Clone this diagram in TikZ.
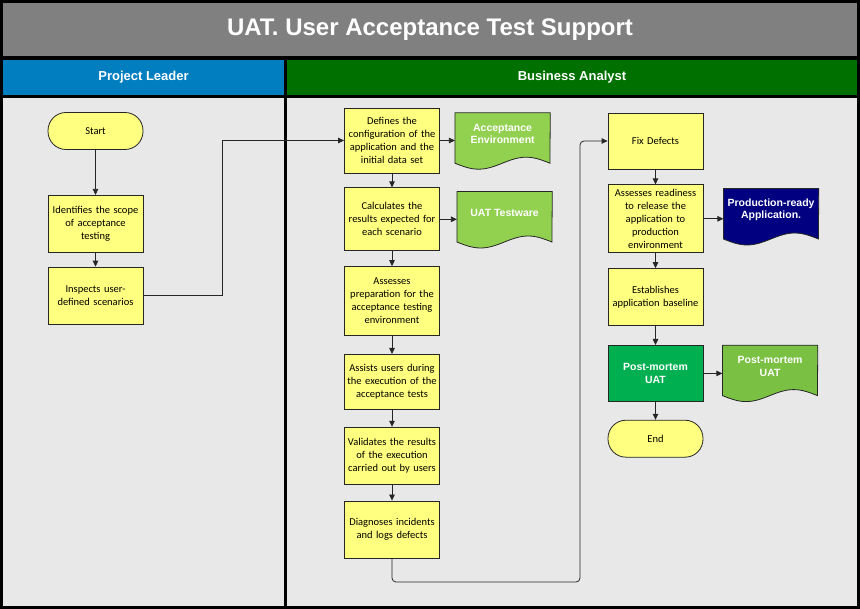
\documentclass[tikz,border=0pt]{standalone}
\usepackage{fontspec}
\setmainfont{Carlito}
\newfontfamily\headfont{Liberation Sans}
\usepackage{tikz}
\usetikzlibrary{arrows.meta,positioning,calc,backgrounds}
\usepackage{xcolor}
\definecolor{titlegray}{RGB}{128,128,128}
\definecolor{leadblue}{RGB}{0,126,192}
\definecolor{analystgreen}{RGB}{0,112,0}
\definecolor{lanegray}{RGB}{232,232,232}
\definecolor{procyellow}{RGB}{255,255,128}
\definecolor{docgreen}{RGB}{146,208,80}
\definecolor{pmgreen}{RGB}{0,176,80}
\definecolor{pmdocgreen}{RGB}{122,192,66}
\definecolor{prodnavy}{RGB}{0,0,128}
\pgfdeclarelayer{lanes}
\pgfsetlayers{lanes,background,main}
\newcommand{\docpath}[1]{($(#1.south west)+(0pt,-8pt)$) sin ++(23.75pt,-6pt) cos ++(23.75pt,6pt) sin ++(23.75pt,6pt) cos ++(23.75pt,-6pt) -- (#1.north east) -- (#1.north west) -- cycle}

\begin{document}
\begin{tikzpicture}[
      x=1pt,y=-1pt,
      box/.style={draw=black!85,line width=0.8pt,minimum width=95pt,text width=93pt,inner sep=1pt,align=center,font=\fontsize{10.5}{13}\selectfont},
      proc/.style={box,fill=procyellow},
      term/.style={box,fill=procyellow,rounded corners=18pt,minimum height=37pt},
      keyproc/.style={box,fill=pmgreen,text=white,font=\headfont\bfseries\fontsize{10.5}{13}\selectfont},
      docbox/.style={minimum width=95pt,minimum height=42pt,inner sep=0pt,align=center,text=white,font=\headfont\bfseries\fontsize{10.5}{12.5}\selectfont},
      docline/.style={draw=black!85,line width=0.8pt},
      titlebar/.style={fill=titlegray,minimum width=854pt,minimum height=53.5pt,inner sep=0pt,text=white,font=\headfont\bfseries\fontsize{24}{28}\selectfont},
      lanehead/.style={minimum height=35pt,inner sep=0pt,text=white,font=\headfont\bfseries\fontsize{13}{15}\selectfont},
      arr/.style={-{Triangle[length=6pt,width=5.5pt]},line width=0.8pt,draw=black!85}
    ]
    \useasboundingbox (0,0) rectangle (860,609);
    % swimlanes
    \begin{pgfonlayer}{lanes}
      \fill[black] (0,0) rectangle (860,609);
      \fill[lanegray] (3,98) rectangle (284,606);
      \fill[lanegray] (287,98) rectangle (857,606);
    \end{pgfonlayer}
    \node[titlebar] (title) at (430,29.75) {UAT. User Acceptance Test Support};
    \node[lanehead,fill=leadblue,minimum width=281pt] (hPL) at (143.5,77.5) {Project Leader};
    \node[lanehead,fill=analystgreen,minimum width=570pt] (hBA) at (572,77.5) {Business Analyst};

    % project leader
    \node[term] (start) at (95.5,131) {Start};
    \node[proc,below=45pt of start,minimum height=57pt] (ident) {Identifies the scope\\of acceptance\\testing};
    \node[proc,below=14pt of ident,minimum height=57pt] (insp) {Inspects user-\\defined scenarios};

    % business analyst, first column
    \node[proc,minimum height=65pt] (def) at (392,140.5) {Defines the\\configuration of the\\application and the\\initial data set};
    \node[proc,below=14pt of def,minimum height=63pt] (calc) {Calculates the\\results expected for\\each scenario};
    \node[proc,below=15pt of calc,minimum height=69pt] (prep) {Assesses\\preparation for the\\acceptance testing\\environment};
    \node[proc,below=18pt of prep,minimum height=55pt] (assist) {Assists users during\\the execution of the\\acceptance tests};
    \node[proc,below=17pt of assist,minimum height=57pt] (valid) {Validates the results\\of the execution\\carried out by users};
    \node[proc,below=16pt of valid,minimum height=57pt] (diag) {Diagnoses incidents\\and logs defects};
    \node[docbox,right=15pt of def,yshift=6.5pt] (accenv) {Acceptance\\Environment};
    \node[docbox,right=17pt of calc,yshift=6.5pt] (testware) {UAT Testware};

    % business analyst, second column
    \node[proc,minimum height=56pt] (fix) at (655.5,141) {Fix Defects};
    \node[proc,below=15pt of fix,minimum height=68pt] (ready) {Assesses readiness\\to release the\\application to\\production\\environment};
    \node[proc,below=15pt of ready,minimum height=57pt] (base) {Establishes\\application baseline};
    \node[keyproc,below=19pt of base,minimum height=56pt] (pm) {Post-mortem\\UAT};
    \node[term,below=18pt of pm] (finish) {End};
    \node[docbox,right=20pt of ready,yshift=9pt] (prodapp) {Production-ready\\Application.};
    \node[docbox,right=19pt of pm,yshift=7pt] (pmdoc) {Post-mortem\\UAT};

    \begin{pgfonlayer}{background}
      \filldraw[docline,fill=docgreen] \docpath{accenv};
      \filldraw[docline,fill=docgreen] \docpath{testware};
      \filldraw[docline,fill=prodnavy] \docpath{prodapp};
      \filldraw[docline,fill=pmdocgreen] \docpath{pmdoc};
    \end{pgfonlayer}

    \coordinate (loop) at (580,582);
    \draw[arr] (start) -- (ident);
    \draw[arr] (ident) -- (insp);
    \draw[arr] (insp.east) -| ([xshift=-122pt]def.west) -- (def.west);
    \draw[arr] (def) -- (calc);
    \draw[arr] (calc) -- (prep);
    \draw[arr] (prep) -- (assist);
    \draw[arr] (assist) -- (valid);
    \draw[arr] (valid) -- (diag);
    \draw[arr,rounded corners=4pt] (diag.south) |- (loop) |- (fix.west);
    \draw[arr] (def.east) -- (def.east -| accenv.west);
    \draw[arr] (calc.east) -- (calc.east -| testware.west);
    \draw[arr] (fix) -- (ready);
    \draw[arr] (ready) -- (base);
    \draw[arr] (base) -- (pm);
    \draw[arr] (pm) -- (finish);
    \draw[arr] (ready.east) -- (ready.east -| prodapp.west);
    \draw[arr] (pm.east) -- (pm.east -| pmdoc.west);
  \end{tikzpicture}
\end{document}
